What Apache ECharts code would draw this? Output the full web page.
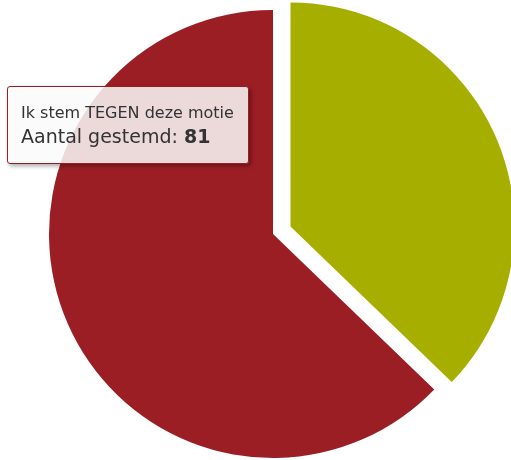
<!DOCTYPE html>
<html>
<head>
    <meta http-equiv="Content-type" content="text/html; charset=utf-8" />
    <title></title>
    <script src="https://cdn.jsdelivr.net/npm/echarts@6/dist/echarts.min.js"></script>
    <style>
    html, body { margin: 0; padding: 0; background: #fff; }
    #main { width: 511px; height: 460px; }
    </style>
</head>
<body>
    <div id="main"></div>
    <script type="text/javascript">
        // stemming: voor / tegen
        var names = ['Ik stem VOOR deze motie', 'Ik stem TEGEN deze motie'];
        var values = [48, 81];
        var colors = ['#a6ae00', '#9b1e24'];

        var myChart = echarts.init(document.getElementById('main'));

        var pieData = [];
        for (var i = 0; i < names.length; i++) {
            pieData.push({
                name: names[i],
                value: values[i],
                selected: i === 0,
                itemStyle: { color: colors[i] }
            });
        }

        myChart.setOption({
            animation: false,
            tooltip: {
                trigger: 'item',
                triggerOn: 'none',
                alwaysShowContent: true,
                position: [7, 86],
                backgroundColor: 'rgba(250,250,250,0.85)',
                borderColor: '#9b1e24',
                borderWidth: 1,
                padding: [15, 6, 15, 13],
                extraCssText: 'border-radius:3px;box-shadow:2px 2px 4px rgba(0,0,0,0.35);width:221px;',
                formatter: function (p) {
                    return '<div style="font-family:\'DejaVu Sans\';font-size:16px;color:#333;line-height:22px;white-space:nowrap">' + p.name + '</div>' +
                        '<div style="font-family:\'DejaVu Sans\';font-size:19px;color:#333;line-height:24px;white-space:nowrap">Aantal gestemd: <b>' + p.value + '</b></div>';
                }
            },
            series: [{
                type: 'pie',
                center: [273, 234],
                radius: 224,
                startAngle: 90,
                clockwise: true,
                selectedMode: 'single',
                selectedOffset: 19,
                label: { show: false },
                labelLine: { show: false },
                itemStyle: { borderWidth: 0 },
                emphasis: { disabled: true },
                data: pieData
            }]
        });

        myChart.dispatchAction({ type: 'showTip', seriesIndex: 0, dataIndex: 1 });
    </script>
</body>
</html>
